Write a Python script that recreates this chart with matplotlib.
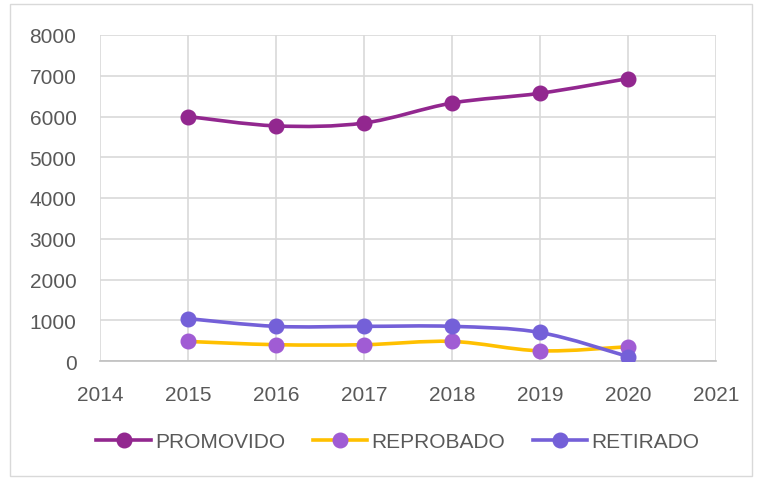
import numpy as np
import matplotlib
matplotlib.use("Agg")
import matplotlib.pyplot as plt
from matplotlib.path import Path
from matplotlib.patches import PathPatch, Rectangle
from matplotlib.lines import Line2D

years = [2015, 2016, 2017, 2018, 2019, 2020]
promovido = [6000, 5770, 5840, 6330, 6570, 6930]
reprobado = [480, 400, 400, 480, 250, 350]
retirado = [1040, 850, 850, 850, 700, 110]

labels = ["PROMOVIDO", "REPROBADO", "RETIRADO"]
line_colors = ["#92278F", "#FFC000", "#7460D8"]
marker_colors = ["#92278F", "#A05CD4", "#7460D8"]

plt.rcParams['font.family'] = ['Liberation Sans', 'DejaVu Sans']
txt = "#595959"

fig = plt.figure(figsize=(7.58, 4.81), dpi=100)
ax = fig.add_axes([100/758, 1-362/481, 616/758, 326/481])

# outer chart border
fig.patches.append(Rectangle((10/758, 4/481), 742/758, 472/481, transform=fig.transFigure,
                             fill=False, edgecolor="#D9D9D9", linewidth=1))


def smooth_path(x, y):
    # catmull-rom style bezier, like excel smoothed lines
    x = np.asarray(x, float); y = np.asarray(y, float)
    verts = [(x[0], y[0])]
    codes = [Path.MOVETO]
    n = len(x)
    for i in range(n - 1):
        x0, y0 = (x[i-1], y[i-1]) if i > 0 else (x[i], y[i])
        x3, y3 = (x[i+2], y[i+2]) if i + 2 < n else (x[i+1], y[i+1])
        c1 = (x[i] + (x[i+1] - x0) / 6, y[i] + (y[i+1] - y0) / 6)
        c2 = (x[i+1] - (x3 - x[i]) / 6, y[i+1] - (y3 - y[i]) / 6)
        verts += [c1, c2, (x[i+1], y[i+1])]
        codes += [Path.CURVE4] * 3
    return Path(verts, codes)


for vals, lc, mc in zip([promovido, reprobado, retirado], line_colors, marker_colors):
    ax.add_patch(PathPatch(smooth_path(years, vals), fill=False, edgecolor=lc,
                           linewidth=2.6, capstyle="round", zorder=3))
    ax.plot(years, vals, linestyle="none", marker="o", markersize=10.5,
            color=mc, zorder=4)

ax.set_xlim(2014, 2021)
ax.set_ylim(0, 8000)
ax.set_xticks(range(2014, 2022))
ax.set_yticks(range(0, 8001, 1000))
ax.grid(True, color="#D9D9D9", linewidth=1.2)
ax.set_axisbelow(True)
for s in ["top", "right", "left"]:
    ax.spines[s].set_visible(False)
ax.spines["bottom"].set_color("#BFBFBF")
ax.spines["bottom"].set_linewidth(1.2)
ax.tick_params(length=0, labelsize=15, colors=txt)
ax.tick_params(axis="x", pad=17)
ax.tick_params(axis="y", pad=17)

handles = [Line2D([0], [0], color=lc, linewidth=2.6, marker="o", markersize=10.5,
                  markerfacecolor=mc, markeredgecolor=mc)
           for lc, mc in zip(line_colors, marker_colors)]
leg = fig.legend(handles, labels, loc="center", bbox_to_anchor=(398/758, 1-443/481),
                 ncol=3, frameon=False, fontsize=15, handlelength=2.6,
                 columnspacing=1.35, handletextpad=0.2)
for t in leg.get_texts():
    t.set_color(txt)

fig.savefig("out.png", dpi=100)
